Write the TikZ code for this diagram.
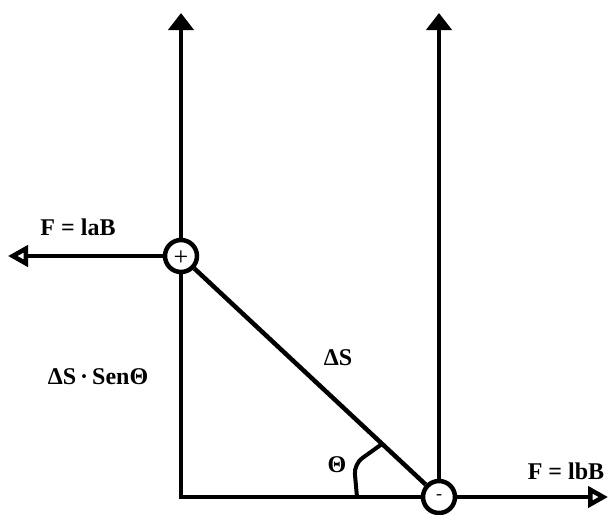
\documentclass[tikz,border=0pt]{standalone}
\usepackage{fontspec}
\setmainfont{Liberation Serif}
\usetikzlibrary{arrows.meta}

\begin{document}
\begin{tikzpicture}[x=1pt, y=-1pt, line width=4.5pt,
    font=\fontsize{24}{28}\selectfont\bfseries,
    pole/.style={circle, draw, fill=white, minimum size=32pt, inner sep=0pt,
      font=\fontsize{26}{28}\selectfont\mdseries},
    upfield/.style={-{Triangle[length=17pt, width=25pt]}},
    force/.style={-{Triangle[open, length=20pt, width=21pt]}}]
    \useasboundingbox (0,0) rectangle (612,514);
    % --- extremos del conductor ---
    \node[pole] (pos) at (181,256) {\smash{\raisebox{-9.5pt}{+}}};
    \node[pole, font=\fontsize{18}{20}\selectfont] (neg) at (439,497) {-};
    \coordinate (corner) at (181,497);
    \coordinate (topA) at (181,13);
    \coordinate (topB) at (439,13);
    \coordinate (tipL) at (8,256);
    \coordinate (tipR) at (608,497);
    % --- lineas de campo ---
    \draw[upfield] (pos) -- (topA);
    \draw[upfield] (neg) -- (topB);
    \draw[line cap=rect] (pos) -- (corner) -- (neg);
    \draw (pos) -- (neg);
    % --- fuerzas ---
    \draw[force] (pos) -- (tipL);
    \draw[force] (neg) -- (tipR);
    % --- angulo ---
    \coordinate (arcA) at (357,497);
    \coordinate (arcB) at (382,444);
    \draw[line width=4pt, rounded corners=10pt] (arcA) -- (354,464) -- (arcB);
    % --- etiquetas ---
    \node (Fa) at (78,227) {F = laB};
    \node (Fb) at (566,471) {F = lbB};
    \node (dS) at (338,358) {ΔS};
    \node (dSsen) at (98,377) {ΔS\,·\,SenΘ};
    \node (th) at (337,465) {Θ};
\end{tikzpicture}
\end{document}
